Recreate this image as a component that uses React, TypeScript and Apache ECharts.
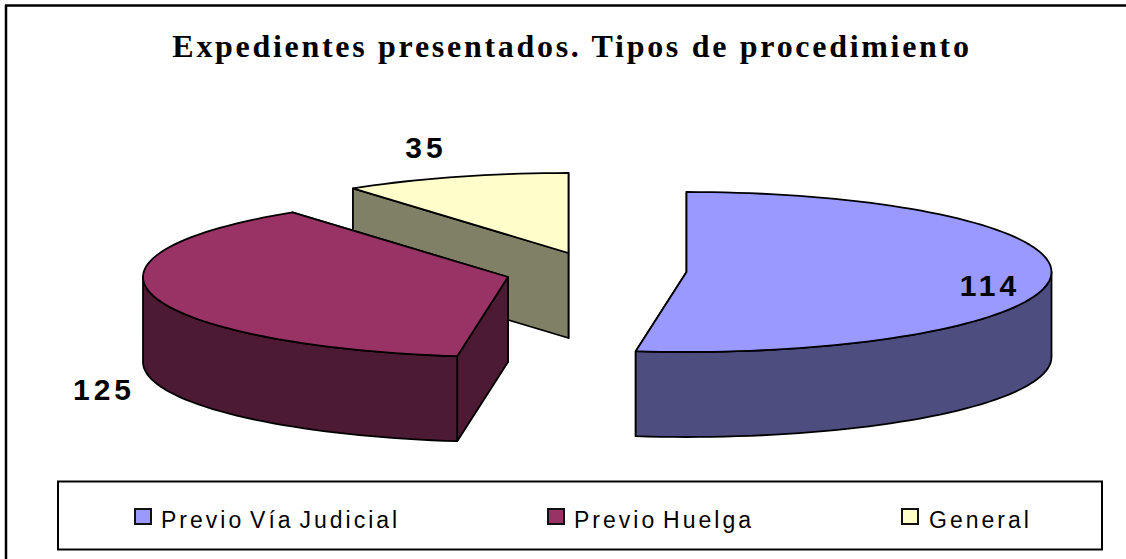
import React, { useEffect, useRef } from "react";
import * as echarts from "echarts";

const titleText = "Expedientes presentados. Tipos de procedimiento";
const categories = ["Previo Vía Judicial", "Previo Huelga", "General"];
const labelValues = [114, 125, 35];
// Angular width of each slice as drawn in the picture (degrees, clockwise from 12 o'clock).
const drawnSweeps = [188, 135.8, 36.2];
const topColors = ["#9999FF", "#993366", "#FFFFCC"];
const sideColors = ["#4D4D80", "#4D1A33", "#808066"];

// layout
const RX = 365;
const RY = 80;
const DEPTH = 85;
const centers = [[686.5, 272], [508, 277], [568.5, 253]];
const labelPos = [[990, 285], [104, 389], [426, 147]];
const legendSwatchX = [135, 548, 902];
const legendTextX = [161, 574, 929];

const rad = (d: number) => (d * Math.PI) / 180;

function arc(cx: number, cy: number, a0: number, a1: number) {
  const pts: number[][] = [];
  const n = Math.max(2, Math.ceil(Math.abs(a1 - a0) / 2));
  for (let i = 0; i <= n; i++) {
    const t = rad(a0 + ((a1 - a0) * i) / n);
    pts.push([cx + RX * Math.sin(t), cy - RY * Math.cos(t)]);
  }
  return pts;
}

function renderSlice(_: any, api: any) {
  const idx = api.value(0);
  const start = api.value(1);
  const sweep = api.value(2);
  const end = start + sweep;
  const [cx, cy] = centers[idx];
  const line = { stroke: "#000", lineWidth: 1.8, lineJoin: "round" };
  const sideStyle = { ...line, fill: sideColors[idx] };
  const children: any[] = [];

  // radial walls, the one nearer the viewer last
  const edges = [start, end].sort((a, b) => -Math.cos(rad(a)) + Math.cos(rad(b)));
  for (const a of edges) {
    const p = arc(cx, cy, a, a)[0];
    children.push({
      type: "polygon",
      shape: { points: [[cx, cy], p, [p[0], p[1] + DEPTH], [cx, cy + DEPTH]] },
      style: sideStyle,
    });
  }
  // outer rim: only the part of the arc on the front half of the ellipse
  const r0 = Math.max(start, 90);
  const r1 = Math.min(end, 270);
  if (r1 > r0) {
    const upper = arc(cx, cy, r0, r1);
    const lower = arc(cx, cy + DEPTH, r1, r0);
    children.push({
      type: "polygon",
      shape: { points: [...upper, ...lower] },
      style: sideStyle,
    });
  }
  // top face
  children.push({
    type: "polygon",
    shape: { points: [[cx, cy], ...arc(cx, cy, start, end)] },
    style: { ...line, fill: topColors[idx] },
  });
  children.push({
    type: "text",
    x: labelPos[idx][0],
    y: labelPos[idx][1],
    style: {
      text: String(labelValues[idx]),
      fill: "#000",
      font: 'bold 30px "Liberation Sans", Arial, sans-serif',
      align: "center",
      verticalAlign: "middle",
    },
  });
  return { type: "group", children };
}

export default function App() {
  const ref = useRef<HTMLDivElement>(null);
  useEffect(() => {
    const chart = echarts.init(ref.current!, undefined, { renderer: "svg" });
    let acc = 0;
    const rows = categories.map((name, i) => {
      const row = { name, value: [i, acc, drawnSweeps[i]] };
      acc += drawnSweeps[i];
      return row;
    });
    const legendGraphics: any[] = [];
    categories.forEach((name, i) => {
      legendGraphics.push({
        type: "rect",
        shape: { x: legendSwatchX[i], y: 509, width: 16, height: 15 },
        style: { fill: topColors[i], stroke: "#111", lineWidth: 2 },
      });
      legendGraphics.push({
        type: "text",
        x: legendTextX[i],
        y: 520,
        style: {
          text: name,
          fill: "#000",
          font: '23px "Liberation Sans", Arial, sans-serif',
          align: "left",
          verticalAlign: "middle",
        },
      });
    });
    chart.setOption({
      animation: false,
      backgroundColor: "#fff",
      title: {
        text: titleText,
        left: 567,
        top: 25,
        textAlign: "center",
        textStyle: {
          fontFamily: '"Liberation Serif", "Times New Roman", serif',
          fontWeight: "bold",
          fontSize: 32,
          color: "#000",
        },
      },
      graphic: [
        {
          type: "line",
          shape: { x1: 5, y1: 5.5, x2: 1126, y2: 5.5 },
          style: { stroke: "#000", lineWidth: 2.5 },
        },
        {
          type: "line",
          shape: { x1: 6, y1: 5, x2: 6, y2: 559 },
          style: { stroke: "#000", lineWidth: 2.5 },
        },
        {
          type: "rect",
          shape: { x: 58, y: 481.5, width: 1044, height: 68 },
          style: { fill: "#fff", stroke: "#000", lineWidth: 2 },
        },
        ...legendGraphics,
      ],
      series: [
        {
          type: "custom",
          coordinateSystem: "none",
          renderItem: renderSlice,
          data: [...rows].reverse(),
          silent: true,
        },
      ],
    });
    ref.current!.querySelectorAll("text").forEach((t) => {
      const s = t.textContent || "";
      const st = (t as any).style;
      if (s === titleText) {
        st.letterSpacing = "2.7px";
      } else if (categories.includes(s)) {
        st.letterSpacing = "3px";
        st.wordSpacing = "-3.5px";
      } else {
        st.letterSpacing = "4px";
      }
    });
    return () => chart.dispose();
  }, []);
  return (
    <div
      ref={ref}
      style={{ position: "absolute", left: 0, top: 0, width: 1126, height: 559 }}
    />
  );
}
